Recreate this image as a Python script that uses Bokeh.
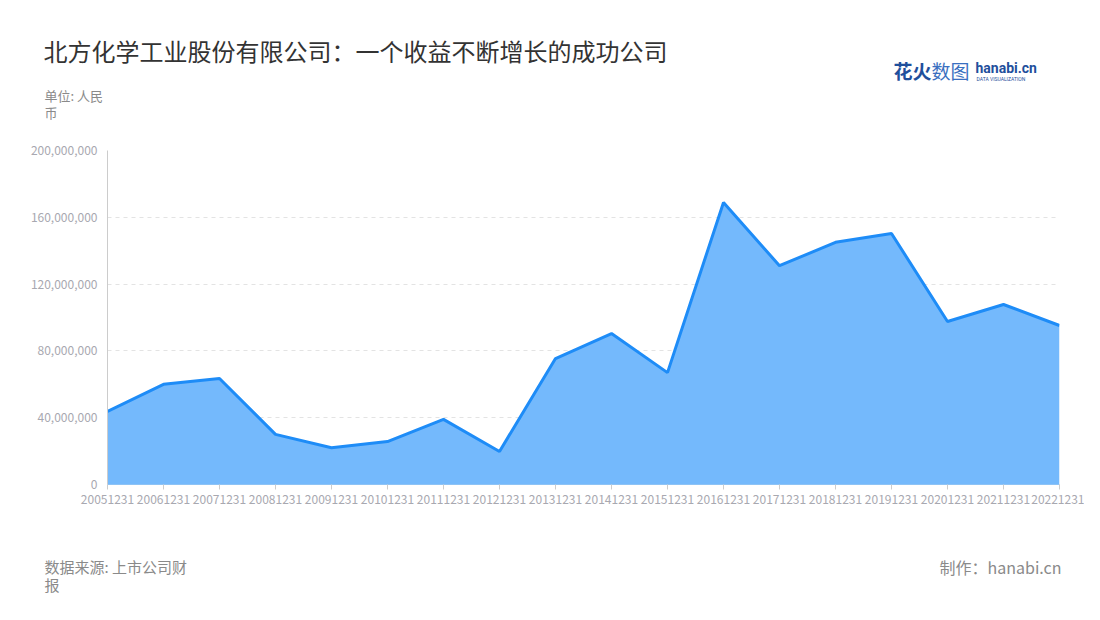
from bokeh.plotting import figure
from bokeh.layouts import column
from bokeh.models import Label, FixedTicker, NumeralTickFormatter, Range1d, ColumnDataSource
from bokeh.embed import file_html
from bokeh.resources import INLINE

dates = ["20051231", "20061231", "20071231", "20081231", "20091231", "20101231",
         "20111231", "20121231", "20131231", "20141231", "20151231", "20161231",
         "20171231", "20181231", "20191231", "20201231", "20211231", "20221231"]
revenue = [43.7e6, 60.0e6, 63.5e6, 30.0e6, 22.0e6, 25.7e6, 39.0e6, 19.8e6, 75.4e6,
           90.4e6, 67.0e6, 168.9e6, 131.0e6, 145.0e6, 150.3e6, 97.6e6, 107.8e6, 95.2e6]
y_ticks = [0, 40e6, 80e6, 120e6, 160e6, 200e6]

title = "北方化学工业股份有限公司：一个收益不断增长的成功公司"
unit = "单位: 人民\n币"
source_note = "数据来源: 上市公司财\n报"
credit = "制作：hanabi.cn"

CJK = "Noto Sans CJK SC"
W = 1084
HEAD_H, MAIN_H, FOOT_H = 124, 406, 74
L, R = 107, 1059
T, B = 150 - HEAD_H, 484 - HEAD_H   # frame top/bottom inside main figure
YMAX = 200e6
NX = len(dates) - 1


def blank(h):
    f = figure(width=W, height=h, output_backend="svg", toolbar_location=None,
               x_range=Range1d(0, W), y_range=Range1d(h, 0),
               x_axis_location=None, y_axis_location=None,
               min_border=0, min_border_left=0, min_border_right=0,
               min_border_top=0, min_border_bottom=0, frame_align=False)
    f.outline_line_color = None
    f.xgrid.grid_line_color = None
    f.ygrid.grid_line_color = None
    f.background_fill_color = "white"
    f.border_fill_color = "white"
    return f


def lab(f, x, y, text, size, color, align="left", bold=False, font=CJK, lh=0.9):
    f.add_layout(Label(x=x, y=y, text=text, text_font=font, text_font_size=size,
                       text_color=color, text_align=align, text_baseline="top",
                       text_font_style="bold" if bold else "normal",
                       text_line_height=lh))


# header
head = blank(HEAD_H)
lab(head, 43, 32, title, "24px", "#333333")
lab(head, 44, 85, unit, "13px", "#8a8a8a")
lab(head, 893, 56, "花火", "19px", "#1f4f9c", bold=True)
lab(head, 931, 56, "数图", "19px", "#3a6fc0")
lab(head, 975, 59, "hanabi.cn", "14px", "#1f4f9c", bold=True, font="Roboto")
lab(head, 976, 75, "DATA VISUALIZATION", "5px", "#1f4f9c", font="Roboto")

# main chart
idx = list(range(len(dates)))
src = ColumnDataSource(dict(x=idx, y=revenue, y0=[0] * len(idx)))

p = figure(width=W, height=MAIN_H, output_backend="svg", toolbar_location=None,
           x_range=Range1d(0, NX), y_range=Range1d(0, YMAX),
           min_border_left=L, min_border_right=W - R, min_border_top=T,
           min_border_bottom=MAIN_H - B, frame_align=False)
p.outline_line_color = None
p.background_fill_color = "white"
p.border_fill_color = "white"

p.varea(x="x", y1="y0", y2="y", source=src, fill_color="#74b9fc", fill_alpha=1.0)
p.line(x="x", y="y", source=src, line_color="#1e8cf7", line_width=3)

p.xaxis.ticker = FixedTicker(ticks=idx)
p.xaxis.major_label_overrides = {i: d for i, d in zip(idx, dates)}
p.xaxis.axis_line_color = "#8ec3f5"
p.xaxis.major_tick_line_color = "#cccccc"
p.xaxis.major_tick_out = 5
p.xaxis.major_tick_in = 0
p.xaxis.minor_tick_line_color = None
p.xaxis.major_label_text_font = CJK
p.xaxis.major_label_text_font_size = "12px"
p.xaxis.major_label_text_color = "#a8a8b0"
p.xaxis.major_label_standoff = 5

p.yaxis.ticker = FixedTicker(ticks=y_ticks)
p.yaxis.formatter = NumeralTickFormatter(format="0,0")
p.yaxis.axis_line_color = "#cccccc"
p.yaxis.major_tick_line_color = None
p.yaxis.minor_tick_line_color = None
p.yaxis.major_label_text_font = CJK
p.yaxis.major_label_text_font_size = "12px"
p.yaxis.major_label_text_color = "#a8a8b0"
p.yaxis.major_label_standoff = 4

p.xgrid.grid_line_color = None
p.ygrid.grid_line_color = "#e3e3e3"
p.ygrid.grid_line_dash = "4 4"
p.ygrid.grid_line_width = 1

# footer
foot = blank(FOOT_H)
lab(foot, 44, 25, source_note, "15px", "#8a8a8a")
lab(foot, 1061, 24, credit, "16px", "#8a8a8a", align="right")

layout = column(head, p, foot, spacing=0)
open("out.html", "w").write(file_html(layout, INLINE))
